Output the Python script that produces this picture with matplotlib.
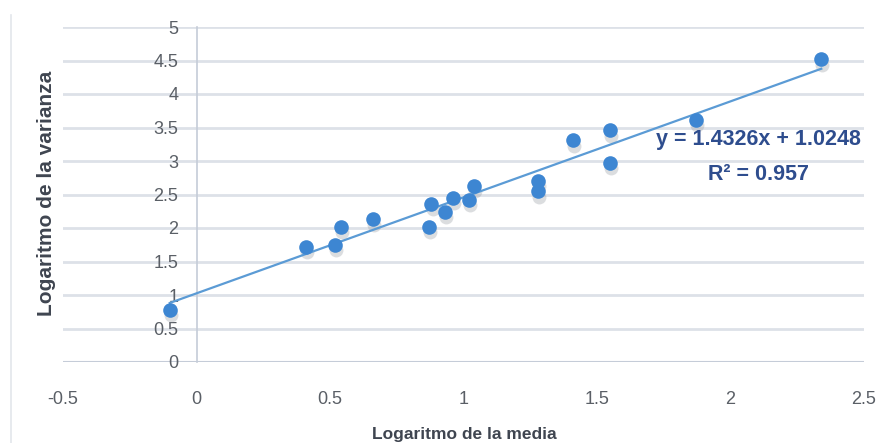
import matplotlib
matplotlib.use("Agg")
import matplotlib.pyplot as plt
import numpy as np

log_media = [-0.10, 0.41, 0.52, 0.54, 0.66, 0.87, 0.88, 0.93, 0.96, 1.02, 1.04, 1.28, 1.28, 1.41, 1.55, 1.55, 1.87, 2.34]
log_varianza = [0.78, 1.72, 1.75, 2.02, 2.13, 2.02, 2.36, 2.24, 2.45, 2.42, 2.63, 2.70, 2.55, 3.31, 3.46, 2.97, 3.61, 4.52]
slope = 1.4326
intercept = 1.0248
r2 = 0.957
x_ticks = [-0.5, 0, 0.5, 1, 1.5, 2, 2.5]
x_tick_labels = ["-0.5", "0", "0.5", "1", "1.5", "2", "2.5"]
y_ticks = [0, 0.5, 1, 1.5, 2, 2.5, 3, 3.5, 4, 4.5, 5]
y_tick_labels = ["0", "0.5", "1", "1.5", "2", "2.5", "3", "3.5", "4", "4.5", "5"]

plt.rcParams['font.family'] = ["Liberation Sans", "DejaVu Sans"]

fig = plt.figure(figsize=(8.83, 4.43), dpi=100)
ax = fig.add_axes([63/883, 1-362/443, (864-63)/883, (362-27)/443])
ax.set_xlim(-0.5, 2.5)
ax.set_ylim(0, 5)

for yt in y_ticks:
    ax.axhline(yt, color="#dde1e8", lw=2.0, zorder=0)

for s in ["top", "right", "bottom"]:
    ax.spines[s].set_visible(False)
ax.spines["left"].set_position(("data", 0))
ax.spines["left"].set_color("#c5ccd8")
ax.spines["left"].set_linewidth(1.2)
ax.axhline(0, color="#c5ccd8", lw=1.5, zorder=1)

ax.set_xticks(x_ticks)
ax.set_xticklabels(x_tick_labels)
ax.set_yticks(y_ticks)
ax.set_yticklabels(y_tick_labels)
ax.tick_params(axis="x", length=0, pad=21, labelsize=13, labelcolor="#5a5f66")
ax.tick_params(axis="y", length=0, pad=13, labelsize=13, labelcolor="#5a5f66")

xs = np.array(log_media)
xl = np.array([xs.min(), xs.max()])
ax.plot(xl, slope * xl + intercept, color="#5b9bd5", lw=1.6, zorder=3)

# shadow
ax.plot(xs + 0.004, np.array(log_varianza) - 0.08, 'o', ms=10, color="#9a9fa6", alpha=0.35, mec="none", zorder=2)
ax.plot(xs, log_varianza, 'o', ms=10.5, color="#3d86d2", mec="none", zorder=4)

ax.text(2.105, 3.32, f"y = {slope}x + {intercept}", ha="center", va="center", fontsize=15.5,
        fontweight="bold", color="#2e4d8e")
ax.text(2.105, 2.80, f"R² = {r2}", ha="center", va="center", fontsize=15.5,
        fontweight="bold", color="#2e4d8e")

fig.text(47/883, 1-193/443, "Logaritmo de la varianza", rotation=90, ha="center", va="center",
         fontsize=15, fontweight="bold", color="#3f4550")
fig.text(464/883, 1-434/443, "Logaritmo de la media", ha="center", va="center",
         fontsize=12.5, fontweight="bold", color="#3f4550")

fig.add_artist(plt.Line2D([11/883, 11/883], [0, 1-15/443], color="#e3e6eb", lw=1.2))

fig.savefig("out.png", dpi=100)
